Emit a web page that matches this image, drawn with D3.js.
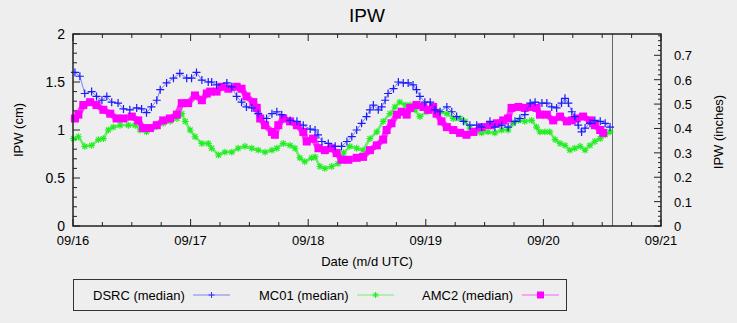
<!DOCTYPE html>
<meta charset="utf-8">
<script src="https://d3js.org/d3.v7.min.js"></script>
<style>
  body { margin: 0; background-color: #eeeeee; font-family: "Liberation Sans", Arial, sans-serif; }
  svg { display: block; }
</style>
<div id="chart"></div>
<script>

// hours since 09/16 00:00 UTC, and IPW in cm
var dsrcHours = [0.4,1.4,2.4,3.8,4.8,5.9,6.9,7.9,9.2,10.3,11.6,13,14,15,16,17.1,17.8,19.1,20.5,21.8,23.2,24.2,25.2,26.3,27.6,28.3,29.3,31.4,32.4,33.4,34.4,35.4,36.5,37.8,39.5,40.6,41.6,42.6,44.3,45.7,47,48.4,49.4,50,50.8,52.1,53.5,54.8,55.9,56.9,57.9,58.9,59.9,60.6,61.3,62.3,63,63.7,64.3,65.4,66.4,67.4,68.4,69.4,70.1,70.8,71.8,72.9,73.9,74.9,76.3,77.3,78.3,79.7,81,82.4,83.4,85.1,86.1,87.5,88.8,90.2,91.2,92.2,93.3,94.3,95.7,96.7,97.7,98.7,99.7,100.4,101.1,101.8,102.4,103.1,103.8,104.5,105.5,106.5,107.6,108.6,109.6];
var dsrcValues = [1.60,1.56,1.38,1.40,1.35,1.31,1.35,1.29,1.28,1.22,1.21,1.23,1.22,1.18,1.24,1.31,1.42,1.49,1.54,1.59,1.54,1.54,1.60,1.52,1.50,1.50,1.47,1.49,1.45,1.35,1.29,1.24,1.23,1.17,1.12,1.17,1.19,1.16,1.10,1.09,1.05,1.01,1.00,0.95,0.88,0.86,0.83,0.83,0.88,0.93,1.00,1.07,1.14,1.21,1.26,1.21,1.24,1.31,1.38,1.43,1.50,1.49,1.49,1.47,1.42,1.35,1.29,1.29,1.21,1.19,1.24,1.19,1.14,1.09,1.05,1.05,1.03,1.09,1.03,1.05,1.03,1.09,1.12,1.16,1.28,1.29,1.28,1.28,1.24,1.23,1.28,1.33,1.28,1.19,1.14,1.05,0.98,1.02,1.07,1.10,1.09,1.07,1.03];

var mc01Hours = [0.1,1.1,2.4,3.8,5.2,6.2,7.2,8.2,9.6,11.3,12.7,13.7,15,16.7,18.4,19.8,21.2,22.2,22.9,23.9,24.9,26.3,27.6,28.3,29.7,31,32.4,33.7,35.1,36.5,37.8,39.2,40.6,41.6,42.9,44.3,45.3,46.3,47.3,48.7,49.4,50.4,51.4,52.8,54.1,55.2,56.5,57.9,59.2,60.6,62,63.3,64.7,65.7,66.7,67.8,68.8,69.8,70.8,72.2,73.5,74.9,76.3,77.6,79,80,81,82,83.4,84.7,86.1,87.5,88.8,89.8,90.9,92.2,93.6,94.6,95.3,96.3,97.3,98.4,99.4,100.4,101.4,102.4,103.5,104.5,105.5,106.5,107.6,108.6,109.6];
var mc01Values = [0.91,0.93,0.83,0.84,0.90,0.91,1.00,1.03,1.05,1.05,1.05,1.00,0.98,1.03,1.07,1.09,1.12,1.17,1.09,1.00,0.93,0.86,0.86,0.81,0.74,0.77,0.77,0.81,0.83,0.81,0.79,0.77,0.79,0.81,0.86,0.84,0.81,0.71,0.67,0.71,0.72,0.62,0.60,0.62,0.65,0.76,0.83,0.81,0.79,0.91,0.98,1.09,1.17,1.24,1.29,1.26,1.26,1.21,1.14,1.19,1.23,1.19,1.17,1.12,1.12,1.09,1.02,0.97,0.97,0.98,0.97,1.00,1.00,1.07,1.10,1.09,1.10,1.03,0.98,0.98,0.98,0.90,0.86,0.84,0.79,0.81,0.83,0.79,0.84,0.88,0.91,0.95,0.98];

var amc2Hours = [0.4,1.1,2.1,3.5,4.8,6.2,7.6,8.9,10.3,12,13.3,14.3,15.7,17.1,18.4,19.8,21.2,22.2,23.5,24.9,26.3,27.3,28,29.3,30.3,31.7,33.4,34.4,35.4,36.8,37.5,38.2,39.2,40.6,41.2,41.9,42.9,44.3,45.7,47,47.7,49,50.1,51.4,52.8,53.8,54.8,56.2,57.9,59.2,60.6,62,63.3,64,65,66.1,67.1,68.1,68.8,70.1,71.5,72.5,73.5,74.2,75.2,76.3,77.6,79,80.3,81.7,83.4,85.1,86.5,87.8,88.8,89.5,90.9,92.2,93.6,94.6,95.3,96.7,98,99.4,100.8,101.8,102.8,104.1,105.5,106.5,107.6,108.2];
var amc2Values = [1.12,1.16,1.26,1.29,1.26,1.21,1.17,1.12,1.12,1.14,1.10,1.02,1.02,1.05,1.10,1.12,1.16,1.28,1.28,1.36,1.31,1.38,1.40,1.40,1.45,1.43,1.45,1.43,1.35,1.29,1.23,1.12,1.05,0.98,0.95,1.05,1.12,1.09,1.05,0.98,0.88,0.91,0.81,0.79,0.81,0.76,0.69,0.69,0.71,0.72,0.79,0.84,0.90,1.00,1.07,1.16,1.19,1.16,1.23,1.26,1.24,1.21,1.24,1.17,1.09,1.03,1.00,0.97,0.95,0.98,1.03,1.05,1.07,1.10,1.12,1.23,1.24,1.23,1.24,1.23,1.16,1.16,1.10,1.14,1.09,1.10,1.12,1.14,1.10,1.05,1.00,0.97];

var nowHour = 110.1;

var t0 = Date.UTC(2019, 8, 16);
function toDate(h) { return new Date(t0 + h * 3600e3); }

var W = 737, H = 323;
var margin = {top: 34, right: 76, bottom: 97, left: 73},
  width = W - margin.left - margin.right,
  height = H - margin.top - margin.bottom;

var svg = d3.select("#chart")
  .append("svg")
    .attr("width", W)
    .attr("height", H)
    .style("background", "#eeeeee");

var g = svg.append("g")
    .attr("transform", "translate(" + margin.left + "," + margin.top + ")");

var x = d3.scaleUtc()
  .domain([new Date(t0), toDate(120)])
  .range([0, width]);

var y = d3.scaleLinear().domain([0, 2]).range([height, 0]);
var yIn = d3.scaleLinear().domain([0, 2 / 2.54]).range([height, 0]);

var ink = "#222";

// minor & major ticks
function ticks(sel, vals, fn) { sel.selectAll(null).data(vals).enter().append("line").each(fn).attr("stroke", ink).attr("stroke-width", 1); }

var days = x.ticks(d3.utcDay.every(1));
var quarter = x.ticks(d3.utcHour.every(6)).filter(function(d){ return d.getUTCHours() !== 0; });

ticks(g, days, function(d){ d3.select(this).attr("x1", x(d)).attr("x2", x(d)).attr("y1", height).attr("y2", height - 7); });
ticks(g, quarter, function(d){ d3.select(this).attr("x1", x(d)).attr("x2", x(d)).attr("y1", height).attr("y2", height - 4); });
ticks(g, days, function(d){ d3.select(this).attr("x1", x(d)).attr("x2", x(d)).attr("y1", 0).attr("y2", 7); });
ticks(g, quarter, function(d){ d3.select(this).attr("x1", x(d)).attr("x2", x(d)).attr("y1", 0).attr("y2", 4); });

var yMajor = d3.range(0, 2.01, 0.5);
var yMinor = d3.range(0, 2.01, 0.1).filter(function(v){ return Math.abs(v * 2 - Math.round(v * 2)) > 1e-6; });
ticks(g, yMajor, function(d){ d3.select(this).attr("x1", 0).attr("x2", 7).attr("y1", y(d)).attr("y2", y(d)); });
ticks(g, yMinor, function(d){ d3.select(this).attr("x1", 0).attr("x2", 4).attr("y1", y(d)).attr("y2", y(d)); });

var inMajor = d3.range(0, 0.71, 0.1);
var inMinor = d3.range(0, 0.787, 0.02).filter(function(v){ return Math.abs(v * 10 - Math.round(v * 10)) > 1e-6; });
ticks(g, inMajor, function(d){ d3.select(this).attr("x1", width).attr("x2", width - 7).attr("y1", yIn(d)).attr("y2", yIn(d)); });
ticks(g, inMinor, function(d){ d3.select(this).attr("x1", width).attr("x2", width - 3).attr("y1", yIn(d)).attr("y2", yIn(d)); });

// tick labels
g.selectAll(null).data(days).enter().append("text")
  .attr("x", function(d){ return x(d); })
  .attr("y", height + 18.5)
  .attr("text-anchor", "middle")
  .style("font-size", "13px")
  .text(d3.utcFormat("%m/%d"));

g.selectAll(null).data(yMajor).enter().append("text")
  .attr("x", -8)
  .attr("y", function(d){ return y(d) + 4.5; })
  .attr("text-anchor", "end")
  .style("font-size", "14px")
  .text(function(d){ return d3.format("~g")(d); });

g.selectAll(null).data(inMajor).enter().append("text")
  .attr("x", width + 13)
  .attr("y", function(d){ return yIn(d) + 5; })
  .attr("text-anchor", "start")
  .style("font-size", "13px")
  .text(function(d){ return d3.format("~g")(+d.toFixed(1)); });

// now line
g.append("line")
  .attr("x1", x(toDate(nowHour))).attr("x2", x(toDate(nowHour)))
  .attr("y1", 0).attr("y2", height)
  .attr("stroke", "#666").attr("stroke-width", 1);

// series
function mk(hours, vals) { return hours.map(function(h, i){ return {t: toDate(h), v: vals[i]}; }); }
var dsrc = mk(dsrcHours, dsrcValues), mc01 = mk(mc01Hours, mc01Values), amc2 = mk(amc2Hours, amc2Values);

var line = d3.line().x(function(d){ return x(d.t); }).y(function(d){ return y(d.v); });

// MC01 green stars
g.append("path").datum(mc01).attr("d", line)
  .attr("fill", "none").attr("stroke", "#33ee33").attr("stroke-opacity", 0.7).attr("stroke-width", 2.5);
var star = "M-3,0H3M0,-3V3M-2.2,-2.2L2.2,2.2M-2.2,2.2L2.2,-2.2";
g.selectAll(null).data(mc01).enter().append("path")
  .attr("transform", function(d){ return "translate(" + x(d.t) + "," + y(d.v) + ")scale(1.15)"; })
  .attr("d", star)
  .attr("stroke", "#22ee22").attr("stroke-width", 1).attr("fill", "none");

// AMC2 magenta squares
g.append("path").datum(amc2).attr("d", line)
  .attr("fill", "none").attr("stroke", "#ff33ff").attr("stroke-width", 6)
  .attr("stroke-linejoin", "round");
g.selectAll(null).data(amc2).enter().append("rect")
  .attr("x", function(d){ return x(d.t) - 4; })
  .attr("y", function(d){ return y(d.v) - 4; })
  .attr("width", 8).attr("height", 8)
  .attr("fill", "#ff00ff");

// DSRC blue pluses
g.append("path").datum(dsrc).attr("d", line)
  .attr("fill", "none").attr("stroke", "#3333ff").attr("stroke-opacity", 0.6).attr("stroke-width", 1);
g.selectAll(null).data(dsrc).enter().append("path")
  .attr("transform", function(d){ return "translate(" + x(d.t) + "," + y(d.v) + ")"; })
  .attr("d", "M-4,0H4M0,-4V4")
  .attr("stroke", "#1a1aff").attr("stroke-width", 1.2).attr("fill", "none");

// frame
g.append("rect")
  .attr("x", 0).attr("y", 0).attr("width", width).attr("height", height)
  .attr("fill", "none").attr("stroke", ink).attr("stroke-width", 1.5);

// titles
svg.append("text").attr("x", 367).attr("y", 22).attr("text-anchor", "middle")
  .style("font-size", "19px").text("IPW");
svg.append("text").attr("x", 367).attr("y", 266).attr("text-anchor", "middle")
  .style("font-size", "13px").text("Date (m/d UTC)");
svg.append("text").attr("transform", "translate(23,130)rotate(-90)").attr("text-anchor", "middle")
  .style("font-size", "13px").text("IPW (cm)");
svg.append("text").attr("transform", "translate(723,132)rotate(-90)").attr("text-anchor", "middle")
  .style("font-size", "13px").text("IPW (inches)");

// legend
var legend = svg.append("g");
legend.append("rect").attr("x", 73.5).attr("y", 279.5).attr("width", 493).attr("height", 31)
  .attr("fill", "none").attr("stroke", "#333").attr("stroke-width", 1);

var legItems = [
  {name: "DSRC (median)", tx: 93, lx: 193, color: "#3333ff", mark: "plus"},
  {name: "MC01 (median)", tx: 259, lx: 357, color: "#22ee22", mark: "star"},
  {name: "AMC2 (median)", tx: 422, lx: 522, color: "#ff00ff", mark: "square"}
];
legItems.forEach(function(it){
  legend.append("text").attr("x", it.tx).attr("y", 300).style("font-size", "13px").text(it.name);
  legend.append("line").attr("x1", it.lx).attr("x2", it.lx + 37).attr("y1", 295).attr("y2", 295)
    .attr("stroke", it.color).attr("stroke-opacity", 0.4).attr("stroke-width", 1.5);
  var cx = it.lx + 18.5;
  if (it.mark === "plus") {
    legend.append("path").attr("d", "M" + (cx - 3) + ",295H" + (cx + 3) + "M" + cx + ",292V298").attr("stroke", it.color).attr("stroke-width", 1);
  } else if (it.mark === "star") {
    legend.append("path").attr("transform", "translate(" + cx + ",295)").attr("d", star).attr("stroke", it.color).attr("stroke-width", 1).attr("fill", "none");
  } else {
    legend.append("rect").attr("x", cx - 3.5).attr("y", 291.5).attr("width", 7).attr("height", 7).attr("fill", it.color);
  }
});

</script>
